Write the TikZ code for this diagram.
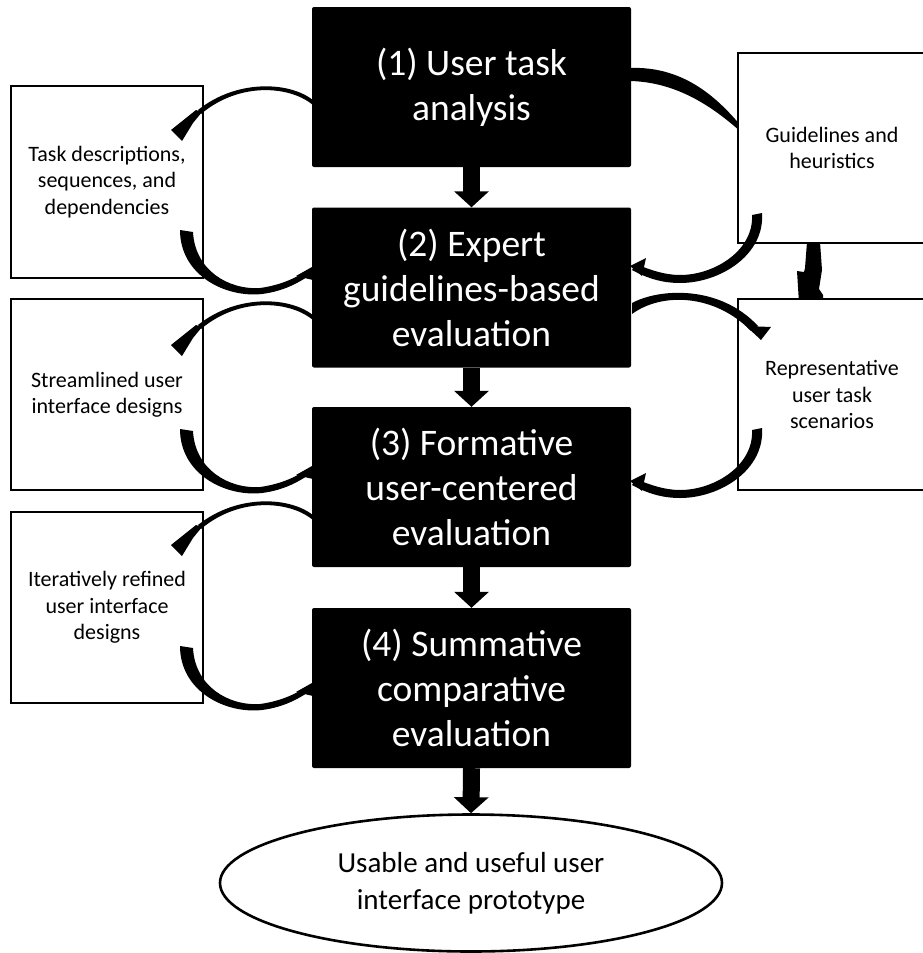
\documentclass[tikz,border=0pt]{standalone}
\usepackage{fontspec}
\setmainfont{Carlito}
\usetikzlibrary{arrows.meta,shapes.geometric}
\begin{document}
\begin{tikzpicture}[x=1pt,y=-1pt,
  stage/.style={fill=black, text=white, rounded corners=2pt, minimum width=319pt, minimum height=160pt, align=center, font=\fontsize{37.5}{45}\selectfont, inner sep=0pt},
  sidebox/.style={draw=black, line width=2.6pt, fill=white, align=center, font=\fontsize{22}{26.5}\selectfont, inner sep=0pt},
  resultnode/.style={ellipse, draw=black, line width=2.6pt, fill=white, minimum width=502pt, minimum height=137pt, align=center, font=\fontsize{29}{37}\selectfont, inner sep=0pt},
  downarrow/.style={line width=17pt, -{Triangle[width=34pt,length=16pt]}},
  carc/.style={fill=black}]
\fill[white] (0,0) rectangle (922,953);
\useasboundingbox (0,0) rectangle (922,953);

% arcs lying under the boxes
\fill[carc] (630,68) .. controls (682,66) and (716,96) .. (741,126) -- (741,132) .. controls (712,106) and (676,82) .. (630,81) -- cycle;
\fill[carc] (807,242) -- (805,268) -- (804,272) -- (797,271) -- (799,303) -- (823,303) -- (823,295) -- (819,289) -- (822,270) -- (820,242) -- cycle;

% stage boxes
\node[stage] (b1) at (471.5,87) {(1) User task\\analysis};
\node[stage] (b2) at (471.5,287.5) {(2) Expert\\guidelines-based\\evaluation};
\node[stage] (b3) at (471.5,487) {(3) Formative\\user-centered\\evaluation};
\node[stage] (b4) at (471.5,688) {(4) Summative\\comparative\\evaluation};

% side boxes
\node[sidebox, minimum width=192pt, minimum height=192pt] (l1) at (107,182) {Task descriptions,\\sequences, and\\dependencies};
\node[sidebox, minimum width=192pt, minimum height=191pt] (l2) at (107,394.5) {Streamlined user\\interface designs};
\node[sidebox, minimum width=192pt, minimum height=191pt] (l3) at (107,607.5) {Iteratively refined\\user interface\\designs};
\node[sidebox, minimum width=188pt, minimum height=190pt] (r1) at (832,148) {Guidelines and\\heuristics};
\node[sidebox, minimum width=188pt, minimum height=191pt] (r2) at (832,394.5) {Representative\\user task\\scenarios};

% outcome
\node[resultnode] (out) at (471,883) {Usable and useful user\\interface prototype};

% straight arrows
\draw[downarrow] (b1.south) -- (b2.north);
\draw[downarrow] (b2.south) -- (b3.north);
\draw[downarrow] (b3.south) -- (b4.north);
\draw[downarrow] (b4.south) -- (out.north);

% left curved arrows
\foreach \dy in {0,215,415}{
  \begin{scope}[yshift=-\dy pt]
    \fill[carc] (314,101) .. controls (292,82) and (238,78) .. (198,110) -- (201,114) .. controls (240,81) and (292,86) .. (314,106) -- cycle;
    \fill[carc] (171,130) -- (182,141) -- (193,123) -- (202,112) -- (196,110) -- cycle;
  \end{scope}
}
\foreach \dy in {0,199,416}{
  \begin{scope}[yshift=-\dy pt]
    \fill[carc] (180,230) .. controls (180,275) and (225,298) .. (262,294) .. controls (285,291) and (300,282) .. (313,273) -- (311,268) .. controls (298,277) and (282,285) .. (260,288) .. controls (228,290) and (195,270) .. (193,232) -- cycle;
    \fill[carc] (296,276) -- (312,267) -- (313,280) -- cycle;
  \end{scope}
}

% right curved arrows
\foreach \dy in {0,215}{
  \begin{scope}[yshift=-\dy pt]
    \fill[carc] (762,213) .. controls (765,255) and (720,283) .. (680,283) .. controls (660,283) and (645,277) .. (632,270) -- (636,264) .. controls (650,270) and (665,275) .. (680,275) .. controls (715,275) and (754,250) .. (752,215) -- cycle;
    \fill[carc] (646,258) -- (630,266) -- (642,276) -- cycle;
  \end{scope}
}
\fill[carc] (632,303) .. controls (660,288) and (720,285) .. (758,326) -- (751,331) .. controls (715,294) and (662,292) .. (632,314) -- cycle;
\fill[carc] (746,326) -- (771,327) -- (761,340) -- cycle;
\end{tikzpicture}
\end{document}
